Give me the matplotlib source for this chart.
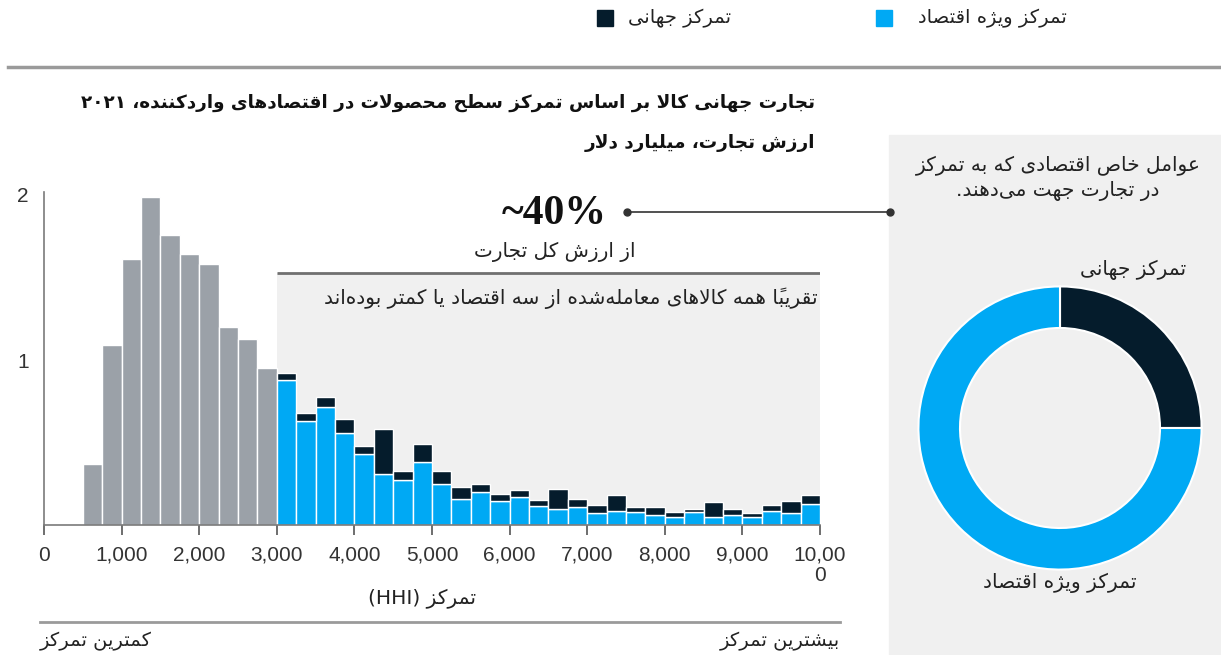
import matplotlib
matplotlib.use("Agg")
import matplotlib.pyplot as plt
import numpy as np

W, H = 1221, 655

# HHI bins (250 wide) and trade value, $ billion
gray_left = [500, 750, 1000, 1250, 1500, 1750, 2000, 2250, 2500, 2750]
gray_vals = [0.37, 1.09, 1.61, 1.99, 1.76, 1.64, 1.58, 1.20, 1.13, 0.95]

split_left = list(range(3000, 10000, 250))
economy_vals = [0.88, 0.63, 0.715, 0.56, 0.43, 0.31, 0.27, 0.38, 0.25, 0.16,
                0.20, 0.145, 0.17, 0.115, 0.095, 0.11, 0.07, 0.085, 0.08, 0.06,
                0.05, 0.08, 0.05, 0.06, 0.05, 0.085, 0.07, 0.13]
global_vals = [0.04, 0.05, 0.06, 0.08, 0.05, 0.27, 0.06, 0.11, 0.08, 0.07,
               0.05, 0.045, 0.04, 0.035, 0.125, 0.05, 0.05, 0.095, 0.03, 0.05,
               0.03, 0.02, 0.09, 0.035, 0.02, 0.035, 0.075, 0.05]

xticks = [0, 1000, 2000, 3000, 4000, 5000, 6000, 7000, 8000, 9000, 10000]
xtick_labels = ["0", "1,000", "2,000", "3,000", "4,000", "5,000", "6,000",
                "7,000", "8,000", "9,000", "10,00\n0"]
yticks = [1, 2]

donut_labels = ["تمرکز جهانی", "تمرکز ویژه اقتصاد"]
donut_shares = [25, 75]

legend_labels = ["تمرکز جهانی", "تمرکز ویژه اقتصاد"]
title_lines = ["تجارت جهانی کالا بر اساس تمرکز سطح محصولات در اقتصادهای واردکننده، ۲۰۲۱",
               "ارزش تجارت، میلیارد دلار"]
share_label = "~40%"
share_note = "از ارزش کل تجارت"
band_note = "تقریباً همه کالاهای معامله‌شده از سه اقتصاد یا کمتر بوده‌اند"
band_top = 1.527
xlabel = "تمرکز (HHI)"
low_label = "کمترین تمرکز"
high_label = "بیشترین تمرکز"
panel_title = "عوامل خاص اقتصادی که به تمرکز\nدر تجارت جهت می‌دهند."

DARK = "#051c2c"
BLUE = "#00a9f4"
GRAY = "#9ba1a8"
PANEL = "#f0f0f0"
TXT = "#222222"

# --- minimal Persian shaping + RTL ordering (matplotlib has no text shaping) ---
DUAL = {'ب': 0xFE8F, 'ت': 0xFE95, 'ث': 0xFE99, 'ج': 0xFE9D, 'ح': 0xFEA1,
        'خ': 0xFEA5, 'س': 0xFEB1, 'ش': 0xFEB5, 'ص': 0xFEB9, 'ض': 0xFEBD,
        'ط': 0xFEC1, 'ظ': 0xFEC5, 'ع': 0xFEC9, 'غ': 0xFECD, 'ف': 0xFED1,
        'ق': 0xFED5, 'ك': 0xFED9, 'ل': 0xFEDD, 'م': 0xFEE1, 'ن': 0xFEE5,
        'ه': 0xFEE9, 'ي': 0xFEF1, 'ئ': 0xFE89, 'پ': 0xFB56, 'چ': 0xFB7A,
        'ک': 0xFB8E, 'گ': 0xFB92, 'ی': 0xFBFC}
RIGHT = {'ا': 0xFE8D, 'آ': 0xFE81, 'أ': 0xFE83, 'إ': 0xFE87, 'د': 0xFEA9,
         'ذ': 0xFEAB, 'ر': 0xFEAD, 'ز': 0xFEAF, 'ژ': 0xFB8A, 'و': 0xFEED,
         'ؤ': 0xFE85, 'ة': 0xFE93}
LAM_ALEF = {'ا': 0xFEFB, 'آ': 0xFEF5}
MIRROR = {'(': ')', ')': '(', '[': ']', ']': '['}


def is_mark(c):
    return 0x064B <= ord(c) <= 0x065F or ord(c) == 0x0670


def jtype(c):
    if c in DUAL:
        return 'D'
    if c in RIGHT:
        return 'R'
    if is_mark(c):
        return 'T'
    return 'U'


def shape(s):
    n = len(s)

    def prev_base(i):
        j = i - 1
        while j >= 0 and is_mark(s[j]):
            j -= 1
        return j

    def next_base(i):
        k = i + 1
        while k < n and is_mark(s[k]):
            k += 1
        return k

    out = []
    i = 0
    while i < n:
        c = s[i]
        t = jtype(c)
        if t in 'DR':
            j = prev_base(i)
            pj = j >= 0 and jtype(s[j]) == 'D'
            k = next_base(i)
            nxt = s[k] if k < n else ''
            if c == 'ل' and nxt in LAM_ALEF:
                out.append(chr(LAM_ALEF[nxt] + (1 if pj else 0)))
                out.extend(s[i + 1:k])
                i = k + 1
                continue
            nj = t == 'D' and nxt != '' and jtype(nxt) in 'DR'
            base = DUAL[c] if t == 'D' else RIGHT[c]
            if t == 'D':
                off = 3 if (pj and nj) else 1 if pj else 2 if nj else 0
            else:
                off = 1 if pj else 0
            out.append(chr(base + off))
        elif c != '\u200c':
            out.append(c)
        i += 1
    return ''.join(out)


def is_ltr(c):
    return (c.isascii() and c.isalnum()) or '\u06f0' <= c <= '\u06f9'


def rtl(text):
    lines = []
    for line in text.split('\n'):
        shaped = shape(line)
        runs = []
        for c in shaped:
            if is_mark(c) and runs:
                runs[-1][1][-1] += c
                continue
            flag = is_ltr(c)
            if runs and runs[-1][0] == flag:
                runs[-1][1].append(c)
            else:
                runs.append([flag, [c]])
        vis = []
        for flag, clusters in reversed(runs):
            if flag:
                vis.append(''.join(clusters))
            else:
                vis.append(''.join(MIRROR.get(cl, cl) for cl in reversed(clusters)))
        lines.append(''.join(vis))
    return '\n'.join(lines)


def px(x, y):
    return x / W, 1 - y / H


fig = plt.figure(figsize=(W / 100, H / 100), dpi=100)
FA = "DejaVu Sans"
LAT = "Liberation Sans"

# right-hand panel background (behind the donut axes)
fig.patches.append(plt.Rectangle(px(889, 655), (W - 889) / W, (655 - 135) / H,
                                 transform=fig.transFigure, color=PANEL, zorder=-1))

# legend
fig.patches.append(plt.Rectangle(px(597, 26), 16 / W, 16 / H, transform=fig.transFigure,
                                 color=DARK))
fig.patches.append(plt.Rectangle(px(876, 26), 16 / W, 16 / H, transform=fig.transFigure,
                                 color=BLUE))
fig.text(*px(628, 18), rtl(legend_labels[0]), family=FA, fontsize=14, ha='left',
         va='center', color=TXT)
fig.text(*px(918, 18), rtl(legend_labels[1]), family=FA, fontsize=14, ha='left',
         va='center', color=TXT)

# rule under legend
fig.add_artist(plt.Line2D([8 / W, 1], [1 - 67 / H] * 2, color='#9a9a9a', lw=2.5))

# title
fig.text(*px(815, 103), rtl(title_lines[0]), family=FA, fontweight='bold', fontsize=13.2,
         ha='right', va='center', color='#111111')
fig.text(*px(815, 143), rtl(title_lines[1]), family=FA, fontweight='bold', fontsize=13.2,
         ha='right', va='center', color='#111111')

# histogram
y_top = 2.02
ax = fig.add_axes([44 / W, 1 - 525 / H, (820 - 44) / W, (525 - 191.7) / H])
ax.set_xlim(0, 10000)
ax.set_ylim(0, y_top)
ax.fill_between([3000, 10000], 0, band_top, color=PANEL, lw=0, zorder=0)
ax.plot([3000, 10000], [band_top, band_top], color='#707070', lw=2, zorder=1,
        solid_capstyle='butt')

ax.bar(gray_left, gray_vals, width=250, align='edge', color=GRAY,
       edgecolor='white', linewidth=1.0, zorder=2)
ax.bar(split_left, economy_vals, width=250, align='edge', color=BLUE,
       edgecolor='white', linewidth=1.0, zorder=2)
ax.bar(split_left, global_vals, bottom=economy_vals, width=250, align='edge',
       color=DARK, edgecolor='white', linewidth=1.0, zorder=2)

for side in ('top', 'right'):
    ax.spines[side].set_visible(False)
for side in ('left', 'bottom'):
    ax.spines[side].set_color('#7a7a7a')
    ax.spines[side].set_linewidth(1.2)
ax.set_facecolor('none')
ax.set_xticks(xticks)
ax.set_xticklabels(xtick_labels, family=LAT, fontsize=15, color='#333333',
                   linespacing=1.05, va='top')
ax.set_yticks(yticks)
ax.set_yticklabels([str(v) for v in yticks], family=LAT, fontsize=15, color='#333333')
ax.tick_params(axis='x', length=7, width=1.2, color='#555555', pad=8)
ax.tick_params(axis='y', length=0, pad=11)

# ~40% callout
fig.text(*px(607, 214), share_label, family="Liberation Serif", fontweight='bold',
         fontsize=30, ha='right', va='center', color='#111111')
fig.text(*px(636, 252), rtl(share_note), family=FA, fontsize=14.3, ha='right',
         va='center', color=TXT)
fig.text(*px(818, 298), rtl(band_note), family=FA, fontsize=14.5, ha='right',
         va='center', color=TXT)
fig.add_artist(plt.Line2D([627 / W, 890 / W], [1 - 212 / H] * 2, color='#333333',
                          lw=1.2, marker='o', markersize=5, markevery=[0, 1]))

# axis labels under histogram
fig.text(*px(422, 598), rtl(xlabel), family=FA, fontsize=14.5, ha='center',
         va='center', color=TXT)
fig.add_artist(plt.Line2D([40 / W, 840 / W], [1 - 622 / H] * 2, color='#9a9a9a', lw=2))
fig.text(*px(40, 641), rtl(low_label), family=FA, fontsize=14, ha='left',
         va='center', color=TXT)
fig.text(*px(840, 641), rtl(high_label), family=FA, fontsize=14, ha='right',
         va='center', color=TXT)

# donut panel
fig.text(*px(1058, 178), rtl(panel_title), family=FA, fontsize=14.5, ha='center',
         va='center', color=TXT, linespacing=1.45)
fig.text(*px(1133, 270), rtl(donut_labels[0]), family=FA, fontsize=14.5, ha='center',
         va='center', color=TXT)
fig.text(*px(1060, 583), rtl(donut_labels[1]), family=FA, fontsize=14.5, ha='center',
         va='center', color=TXT)

r_out = 143
dax = fig.add_axes([(1060 - r_out) / W, 1 - (428 + r_out) / H, 2 * r_out / W, 2 * r_out / H])
dax.pie(donut_shares, colors=[DARK, BLUE], startangle=90, counterclock=False,
        radius=1, wedgeprops=dict(width=42 / r_out, edgecolor='white', linewidth=1.5))
dax.set_xlim(-1.01, 1.01)
dax.set_ylim(-1.01, 1.01)
dax.set_axis_off()

fig.savefig("out.png", dpi=100)
